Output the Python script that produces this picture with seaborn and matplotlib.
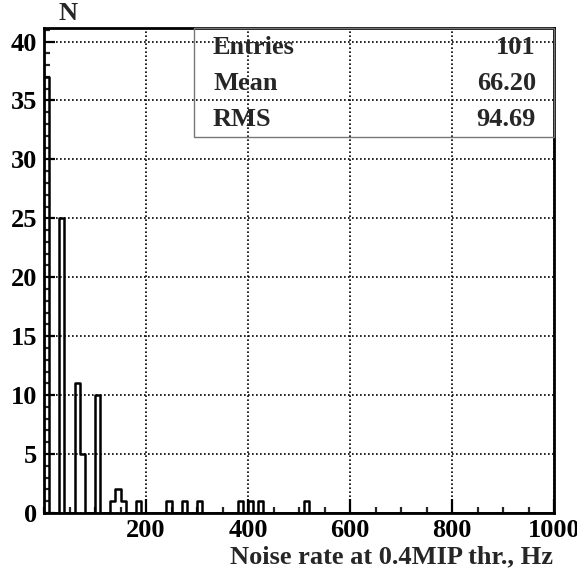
import numpy as np
import pandas as pd
import matplotlib
matplotlib.use("Agg")
import matplotlib.pyplot as plt
import seaborn as sns
from matplotlib.ticker import MultipleLocator
from matplotlib.patches import Rectangle

# ---- data ----
bin_low = [0, 30, 60, 70, 100, 130, 140, 150, 180, 240, 270, 300, 380, 400, 420, 510]
counts = [37, 25, 11, 5, 10, 1, 2, 1, 1, 1, 1, 1, 1, 1, 1, 1]
bin_width = 10
x_range = (0, 1000)
stats_labels = ["Entries", "Mean", "RMS"]
stats_values = ["101", "66.20", "94.69"]
x_ticks = [200, 400, 600, 800, 1000]
y_ticks = [0, 5, 10, 15, 20, 25, 30, 35, 40]
x_title = "Noise rate at 0.4MIP thr., Hz"
y_title = "N"

sns.set_theme(style="ticks")
plt.rcParams["font.family"] = ["Liberation Serif", "DejaVu Serif"]
plt.rcParams["font.weight"] = "bold"

FS = 19
W, H = 577, 571
fig = plt.figure(figsize=(W / 100, H / 100), dpi=100)
L, R, T, B = 44, 554, 28, 513
ax = fig.add_axes([L / W, 1 - B / H, (R - L) / W, (B - T) / H])

df = pd.DataFrame({"x": np.array(bin_low, dtype=float) + bin_width / 2,
                   "w": np.array(counts, dtype=float)})
n_bins = int((x_range[1] - x_range[0]) / bin_width)
sns.histplot(data=df, x="x", weights="w", bins=n_bins, binrange=x_range,
             element="step", fill=False, color="black", linewidth=1.8, ax=ax, zorder=3)

ax.set_xlim(*x_range)
ax.set_ylim(0, 41.15)
ax.set_xlabel("")
ax.set_ylabel("")

ax.set_xticks(x_ticks)
ax.set_xticklabels([str(t) for t in x_ticks])
ax.set_yticks(y_ticks)
ax.set_yticklabels([str(t) for t in y_ticks])
ax.xaxis.set_minor_locator(MultipleLocator(50))
ax.yaxis.set_minor_locator(MultipleLocator(1))
ax.tick_params(axis="both", which="major", direction="in", length=8, width=1.6,
               labelsize=FS, colors="black")
ax.tick_params(axis="y", which="major", pad=5)
ax.tick_params(axis="x", which="major", pad=4, length=10)
ax.tick_params(axis="both", which="minor", direction="in", length=4, width=1.6)
for lab in ax.get_xticklabels() + ax.get_yticklabels():
    lab.set_fontweight("bold")

ax.grid(True, which="major", color="black", linestyle=(0, (1, 1.4)), linewidth=1.2)
ax.set_axisbelow(True)
for s in ax.spines.values():
    s.set_visible(True)
    s.set_linewidth(2.0)
    s.set_color("black")

# stats box
x0 = (194 - L) / (R - L)
y0 = (B - 137) / (B - T)
ax.add_patch(Rectangle((x0, y0), 1 - x0, 1 - y0, transform=ax.transAxes,
                       fill=False, edgecolor="#777777", linewidth=1.0, clip_on=False, zorder=4))
row_y = [47, 84, 120]
for lab, val, yy in zip(stats_labels, stats_values, row_y):
    fig.text(213 / W, 1 - yy / H, lab, fontsize=FS, fontweight="bold", ha="left", va="center")
    fig.text(536 / W, 1 - yy / H, val, fontsize=FS, fontweight="bold", ha="right", va="center")

fig.text(553 / W, 1 - 557 / H, x_title, fontsize=FS, fontweight="bold", ha="right", va="center")
fig.text(68 / W, 1 - 14 / H, y_title, fontsize=FS, fontweight="bold", ha="center", va="center")

fig.savefig("out.png", dpi=100, facecolor="white")
